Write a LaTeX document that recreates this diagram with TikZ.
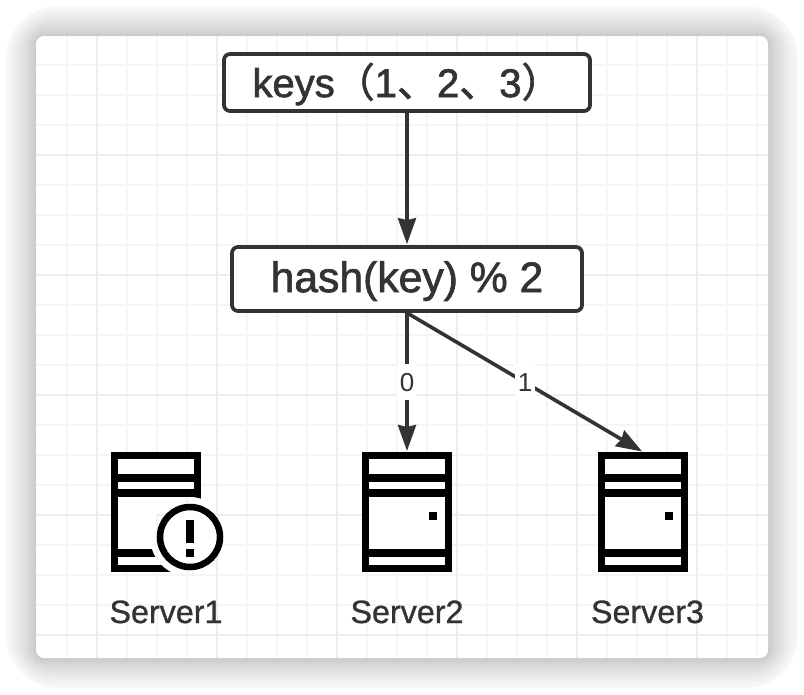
\documentclass[tikz,border=0pt]{standalone}
\usepackage{fontspec}
\setmainfont{Liberation Sans}
\newfontfamily\boxfont[FakeBold=1.6]{Liberation Sans}
\newfontfamily\namefont[FakeBold=0.9]{Liberation Sans}
\newfontfamily\cjk[FakeBold=1.6]{Noto Sans CJK SC}
\usetikzlibrary{arrows.meta}
\definecolor{inkgray}{RGB}{51,51,51}
\definecolor{gridminor}{RGB}{245,245,245}
\definecolor{gridmajor}{RGB}{238,238,238}
\tikzset{
  every picture/.style={line width=0.75pt},
  flowbox/.style={draw=inkgray,fill=white,line width=2.8pt,rounded corners=4.5pt,inner sep=0pt,text=inkgray},
  flowarrow/.style={draw=inkgray,line width=2.7pt,-{Stealth[length=19.5pt,width=13.5pt,inset=1.5pt]},shorten >=0.75pt},
  edgelabel/.style={fill=white,text=inkgray,font=\fontsize{19.5pt}{19.5pt}\selectfont,inner sep=0pt,minimum height=27pt,minimum width=15pt},
  serverbox/.style={draw=black,fill=white,line width=5.25pt,minimum width=62.25pt,minimum height=84.75pt,inner sep=0pt},
  serverbar/.style={draw=black,line width=5.7pt},
  serverlabel/.style={text=inkgray,anchor=base,inner sep=0pt,font=\namefont\fontsize{24.2pt}{24.2pt}\selectfont}
}
% server body: name, centre x
\newcommand{\serverbody}[2]{
  \node[serverbox] (#1) at (#2,512) {};
  \foreach \bary in {478,493,553}
    \draw[serverbar] (#2-41,\bary) -- (#2+41,\bary);
}

\begin{document}
\begin{tikzpicture}[x=0.75pt,y=0.75pt,yscale=-1,xscale=1]
\useasboundingbox (0,0) rectangle (804,694);

%Shadow
\foreach \d in {30,29,...,1}{
  \pgfmathsetmacro{\shadelevel}{3+18*(1-\d/30)^1.3}
  \fill[black!\shadelevel!white,rounded corners={(8+1.5*\d)*0.75pt}] (36-\d,36-\d) rectangle (768+\d,658+\d);
}
%Panel
\fill[white,rounded corners=6pt] (36,36) rectangle (768,658);

%Grid
\begin{scope}
\clip[rounded corners=6pt] (36,36) rectangle (768,658);
\foreach \gx in {67,97,...,757}
  \draw[gridminor,line width=1.1pt] (\gx,36) -- (\gx,658);
\foreach \gy in {65,95,...,635}
  \draw[gridminor,line width=1.1pt] (36,\gy) -- (768,\gy);
\foreach \gx in {97,217,...,697}
  \draw[gridmajor,line width=1.1pt] (\gx,36) -- (\gx,658);
\foreach \gy in {155,275,...,635}
  \draw[gridmajor,line width=1.1pt] (36,\gy) -- (768,\gy);
\end{scope}

%Flow boxes
\node[flowbox,minimum width=274.5pt,minimum height=42.75pt,font=\boxfont\fontsize{30pt}{30pt}\selectfont] (keys) at (407,82.5) {\raisebox{-10.9pt}[0pt][0pt]{keys{\cjk （}1{\cjk 、}2{\cjk 、}3{\cjk ）}}};
\node[flowbox,minimum width=262.5pt,minimum height=48pt,font=\boxfont\fontsize{32pt}{32pt}\selectfont] (hash) at (407,279) {\raisebox{-9.8pt}[0pt][0pt]{hash(key) \% 2}};

%Servers
\begin{scope}
\clip (100,440) -- (240,440) -- (240,590) -- (100,590) -- cycle
  (230,537) arc [start angle=0,end angle=-360,radius=40] -- cycle;
\serverbody{server1}{156}
\end{scope}
\serverbody{server2}{407}
\serverbody{server3}{643}
\fill (433,516) +(-4,-4) rectangle +(4,4);
\fill (669,516) +(-4,-4) rectangle +(4,4);

%Warning badge
\node[draw=black,fill=white,line width=4.9pt,circle,minimum size=45pt,inner sep=0pt] (badge) at (190,537) {};
\fill (186,520) rectangle (194,543);
\fill (186,549) rectangle (194,557);

%Connectors
\draw[flowarrow] (keys) -- (hash);
\draw[flowarrow] (hash.south) -- node[edgelabel] (zero) {0} (server2.north);
\draw[flowarrow] (hash.south) -- node[edgelabel] (one) {1} (server3.north);

%Server names
\node[serverlabel] (name1) at (166,623) {Server1};
\node[serverlabel] (name2) at (407,623) {Server2};
\node[serverlabel] (name3) at (647.5,623) {Server3};
\end{tikzpicture}
\end{document}
